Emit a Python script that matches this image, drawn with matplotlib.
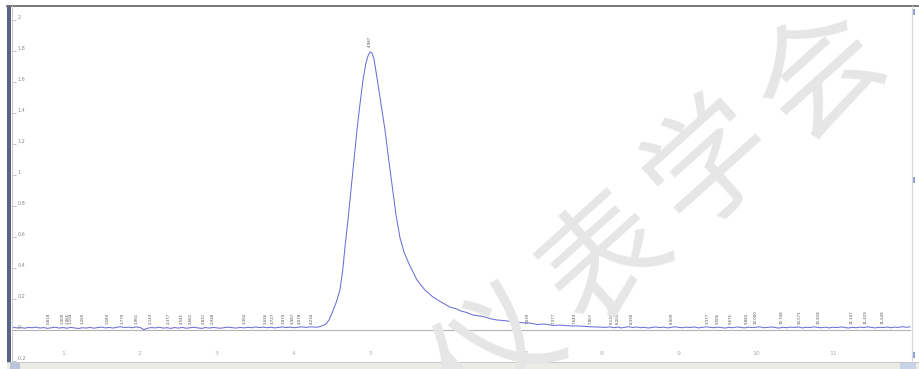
import numpy as np
import matplotlib
matplotlib.use('Agg')
import matplotlib.pyplot as plt
import matplotlib.transforms as mtransforms
from matplotlib.patches import Rectangle

# baseline before the peak, signal in thousandths, sampled every 0.05 min from 0.35
base_left = [18, 14, 16, 12, 17, 15, 19, 13, 16, 11,
             15, 18, 13, 16, 12, 17, 14, 10, 15, 13,
             17, 12, 16, 19, 14, 17, 13, 18, 21, 16,
             19, 15, 20, 17, 3, 12, 16, 14, 18, 13,
             15, 11, 16, 13, 17, 12, 15, 18, 14, 11,
             16, 13, 17, 14, 12, 16, 19, 15, 13, 17,
             14, 18, 15, 20, 16, 19, 15, 18, 14, 17,
             20, 16, 19, 15, 18, 21, 17, 20]

# main peak and its tail
peak_t = [4.25, 4.30, 4.34, 4.38, 4.42, 4.455, 4.494, 4.545, 4.597, 4.636,
          4.662, 4.701, 4.740, 4.779, 4.818, 4.857, 4.896, 4.935, 4.961, 4.987,
          5.013, 5.039, 5.078, 5.130, 5.182, 5.234, 5.286, 5.325, 5.377, 5.429,
          5.494, 5.597, 5.701, 5.805, 5.909, 6.026, 6.10, 6.169, 6.25, 6.325,
          6.40, 6.481, 6.56, 6.636, 6.73, 6.831, 6.95, 7.065, 7.16, 7.260,
          7.36, 7.455, 7.58, 7.714, 7.85, 7.974]
peak_v = [0.020, 0.018, 0.023, 0.030, 0.042, 0.065, 0.110, 0.174, 0.258, 0.400,
          0.535, 0.710, 0.903, 1.097, 1.290, 1.458, 1.613, 1.723, 1.768, 1.794,
          1.787, 1.748, 1.626, 1.458, 1.290, 1.084, 0.890, 0.742, 0.594, 0.503,
          0.426, 0.323, 0.258, 0.213, 0.181, 0.148, 0.138, 0.123, 0.112, 0.097,
          0.092, 0.084, 0.072, 0.065, 0.061, 0.055, 0.048, 0.045, 0.036, 0.039,
          0.030, 0.032, 0.027, 0.026, 0.021, 0.019]

# baseline after the peak, thousandths, every 0.05 min from 8.05
base_right = [17, 21, 15, 19, 14, 18, 22, 16, 20, 15,
              18, 13, 17, 20, 16, 19, 14, 18, 21, 17,
              15, 19, 16, 20, 14, 17, 21, 18, 15, 19,
              16, 13, 18, 15, 20, 17, 14, 19, 16, 18,
              21, 15, 17, 20, 16, 13, 18, 15, 19, 17,
              20, 14, 18, 16, 21, 17, 15, 19, 14, 18,
              16, 20, 17, 13, 18, 15, 19, 16, 21, 17,
              14, 18, 16, 20, 15, 19, 17, 22, 18, 21]

# retention time labels
rt_labels = [0.818, 1.000, 1.065, 1.104, 1.260, 1.584, 1.779, 1.961, 2.143,
             2.377, 2.545, 2.662, 2.831, 2.948, 3.364, 3.636, 3.727, 3.870,
             3.987, 4.078, 4.234, 7.039, 7.377, 7.649, 7.857, 8.130, 8.208,
             8.390, 8.909, 9.377, 9.506, 9.675, 9.883, 10.000, 10.338, 10.571,
             10.818, 11.247, 11.429, 11.649]
apex_rt = 4.987
apex_v = 1.794

y_ticks = [-0.2, 0, 0.2, 0.4, 0.6, 0.8, 1.0, 1.2, 1.4, 1.6, 1.8, 2.0]
x_ticks = [1, 2, 3, 4, 5, 6, 7, 8, 9, 10, 11]

left_t = np.round(0.35 + 0.05 * np.arange(len(base_left)), 3)
right_t = np.round(8.05 + 0.05 * np.arange(len(base_right)), 3)
time = np.concatenate([left_t, peak_t, right_t])
signal = np.concatenate([np.array(base_left) / 1000, peak_v,
                         np.array(base_right) / 1000])

W, H = 919, 369
fig = plt.figure(figsize=(W / 100, H / 100), dpi=100)
fig.patch.set_facecolor('white')

ax = fig.add_axes([12 / W, (H - 362) / H, 899 / W, 356 / H])
ax.set_xlim(0.3377, 12.013)
ax.set_ylim(-0.206, 2.09)
for s in ax.spines.values():
    s.set_visible(False)

ax.axhline(0, color='#b4b4b4', lw=0.8, zorder=1)
ax.plot(time, signal, color='#6e6ed6', lw=0.75, zorder=2)

ax.set_yticks(y_ticks)
ax.set_yticklabels([])
ax.set_xticks([])
ax.tick_params(axis='y', direction='in', length=3, color='#aaaaaa', width=0.5)
trans = mtransforms.blended_transform_factory(ax.transAxes, ax.transData)
for v in y_ticks:
    ax.text(0.0058, v, '{:g}'.format(v), transform=trans, fontsize=3.5,
            color='#8a8a8a', ha='left', va='bottom')

for t in x_ticks:
    ax.text(t, -0.148, str(t), fontsize=4.5, color='#b0b0b0',
            ha='center', va='center')

for t in rt_labels:
    ax.text(t, 0.039, '{:.3f}'.format(t), rotation=90, fontsize=2.8,
            color='#505050', ha='center', va='bottom')
ax.text(apex_rt, apex_v + 0.03, '{:.3f}'.format(apex_rt), rotation=90,
        fontsize=2.8, color='#505050', ha='center', va='bottom')

# window frame around the plot
frame = fig.add_axes([0, 0, 1, 1])
frame.set_xlim(0, W)
frame.set_ylim(H, 0)
frame.axis('off')
frame.patch.set_visible(False)
frame.plot([7, W], [5.5, 5.5], color='#6e6e6e', lw=1.3)
frame.add_patch(Rectangle((7, 5), 4, 357, color='#56648a', lw=0))
frame.plot([12, 12], [6, 362], color='#c9cbd6', lw=0.8)
frame.add_patch(Rectangle((7, 362), W - 7, 7, color='#ecebe6', lw=0))
frame.plot([7, W], [362, 362], color='#c4c4c4', lw=0.6)
frame.add_patch(Rectangle((10, 362.5), 10, 6, color='#b9c4dc', lw=0))
frame.add_patch(Rectangle((900, 361.5), 16, 7, color='#c8d3ea', lw=0))
frame.plot([912, 912], [6, 362], color='#d8d8d8', lw=0.8)
for yy in [12, 180, 355]:
    frame.add_patch(Rectangle((912, yy - 3), 2.5, 6, color='#8ea2d8', lw=0))

# watermark
wm_chars = ['仪', '表', '学', '会']
wm_x = [500, 608, 712, 822]
wm_y = [356, 262, 165, 76]
for ch, px, py in zip(wm_chars, wm_x, wm_y):
    fig.text(px / W, 1 - py / H, ch, fontsize=90, color='#e6e6e6',
             family=['Noto Sans CJK SC', 'DejaVu Sans'], rotation=42,
             ha='center', va='center', rotation_mode='anchor')

fig.savefig('out.png', dpi=100, facecolor='white')
